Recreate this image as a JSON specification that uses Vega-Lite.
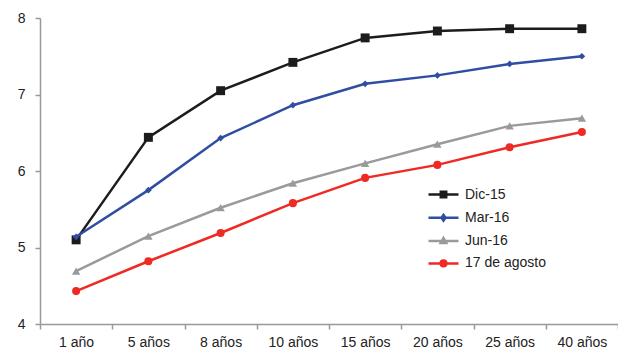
{
  "$schema": "https://vega.github.io/schema/vega-lite/v6.json",
  "autosize": {"type": "none"},
  "padding": {"left": 40, "top": 18, "right": 0, "bottom": 28},
  "width": 578,
  "height": 306,
  "background": "white",
  "config": {
    "view": {"stroke": null},
    "font": "Liberation Sans",
    "axis": {"labelFont": "Liberation Sans", "labelFontSize": 14, "labelColor": "#222222", "domainColor": "#999999", "tickColor": "#999999", "domainWidth": 1.5, "tickWidth": 1.5, "grid": false, "title": null}
  },
  "data": {
    "values": [
      {"plazo": "1 año", "serie": "Dic-15", "valor": 5.10},
      {"plazo": "5 años", "serie": "Dic-15", "valor": 6.44},
      {"plazo": "8 años", "serie": "Dic-15", "valor": 7.05},
      {"plazo": "10 años", "serie": "Dic-15", "valor": 7.42},
      {"plazo": "15 años", "serie": "Dic-15", "valor": 7.74},
      {"plazo": "20 años", "serie": "Dic-15", "valor": 7.83},
      {"plazo": "25 años", "serie": "Dic-15", "valor": 7.86},
      {"plazo": "40 años", "serie": "Dic-15", "valor": 7.86},
      {"plazo": "1 año", "serie": "Mar-16", "valor": 5.14},
      {"plazo": "5 años", "serie": "Mar-16", "valor": 5.75},
      {"plazo": "8 años", "serie": "Mar-16", "valor": 6.43},
      {"plazo": "10 años", "serie": "Mar-16", "valor": 6.86},
      {"plazo": "15 años", "serie": "Mar-16", "valor": 7.14},
      {"plazo": "20 años", "serie": "Mar-16", "valor": 7.25},
      {"plazo": "25 años", "serie": "Mar-16", "valor": 7.40},
      {"plazo": "40 años", "serie": "Mar-16", "valor": 7.50},
      {"plazo": "1 año", "serie": "Jun-16", "valor": 4.69},
      {"plazo": "5 años", "serie": "Jun-16", "valor": 5.15},
      {"plazo": "8 años", "serie": "Jun-16", "valor": 5.52},
      {"plazo": "10 años", "serie": "Jun-16", "valor": 5.84},
      {"plazo": "15 años", "serie": "Jun-16", "valor": 6.10},
      {"plazo": "20 años", "serie": "Jun-16", "valor": 6.35},
      {"plazo": "25 años", "serie": "Jun-16", "valor": 6.59},
      {"plazo": "40 años", "serie": "Jun-16", "valor": 6.69},
      {"plazo": "1 año", "serie": "17 de agosto", "valor": 4.43},
      {"plazo": "5 años", "serie": "17 de agosto", "valor": 4.82},
      {"plazo": "8 años", "serie": "17 de agosto", "valor": 5.19},
      {"plazo": "10 años", "serie": "17 de agosto", "valor": 5.58},
      {"plazo": "15 años", "serie": "17 de agosto", "valor": 5.91},
      {"plazo": "20 años", "serie": "17 de agosto", "valor": 6.08},
      {"plazo": "25 años", "serie": "17 de agosto", "valor": 6.31},
      {"plazo": "40 años", "serie": "17 de agosto", "valor": 6.51}
    ]
  },
  "encoding": {
    "x": {
      "field": "plazo", "type": "nominal",
      "sort": ["1 año", "5 años", "8 años", "10 años", "15 años", "20 años", "25 años", "40 años"],
      "scale": {"type": "band", "paddingInner": 0, "paddingOuter": 0},
      "axis": {"labelAngle": 0, "tickBand": "extent", "tickSize": 5, "labelPadding": 6}
    },
    "y": {
      "field": "valor", "type": "quantitative",
      "scale": {"domain": [4, 8], "nice": false, "zero": false},
      "axis": {"values": [4, 5, 6, 7, 8], "tickSize": 5, "labelPadding": 10, "format": "d"}
    }
  },
  "layer": [
    {
      "transform": [{"filter": "datum.serie === 'Dic-15'"}],
      "mark": {"type": "line", "strokeWidth": 2.5, "color": "#1c1c1c", "point": {"filled": true, "opacity": 1, "shape": "square", "size": 80, "color": "#1c1c1c"}}
    },
    {
      "transform": [{"filter": "datum.serie === 'Mar-16'"}],
      "mark": {"type": "line", "strokeWidth": 2.5, "color": "#2f4ea1", "point": {"filled": true, "opacity": 1, "shape": "diamond", "size": 45, "color": "#2f4ea1"}}
    },
    {
      "transform": [{"filter": "datum.serie === 'Jun-16'"}],
      "mark": {"type": "line", "strokeWidth": 2.5, "color": "#9a9a9a", "point": {"filled": true, "opacity": 1, "shape": "triangle-up", "size": 70, "color": "#9a9a9a"}}
    },
    {
      "transform": [{"filter": "datum.serie === '17 de agosto'"}],
      "mark": {"type": "line", "strokeWidth": 2.5, "color": "#ee2a24", "point": {"filled": true, "opacity": 1, "shape": "circle", "size": 65, "color": "#ee2a24"}}
    },
    {
      "transform": [{"filter": "false"}],
      "mark": {"type": "point", "filled": true, "opacity": 1, "strokeWidth": 2.5},
      "encoding": {
        "color": {
          "field": "serie", "type": "nominal",
          "scale": {"domain": ["Dic-15", "Mar-16", "Jun-16", "17 de agosto"], "range": ["#1c1c1c", "#2f4ea1", "#9a9a9a", "#ee2a24"]},
          "legend": {
            "title": null, "orient": "none", "legendX": 392, "legendY": 165,
            "padding": 0, "symbolSize": 400, "symbolStrokeWidth": 2.5, "labelOffset": 10, "rowPadding": 3.3,
            "labelFont": "Liberation Sans", "labelFontSize": 14, "labelColor": "#222222"
          }
        },
        "stroke": {
          "field": "serie", "type": "nominal",
          "scale": {"domain": ["Dic-15", "Mar-16", "Jun-16", "17 de agosto"], "range": ["#1c1c1c", "#2f4ea1", "#9a9a9a", "#ee2a24"]},
          "legend": {
            "title": null, "orient": "none", "legendX": 392, "legendY": 165,
            "padding": 0, "symbolSize": 400, "symbolStrokeWidth": 2.5, "labelOffset": 10, "rowPadding": 3.3,
            "labelFont": "Liberation Sans", "labelFontSize": 14, "labelColor": "#222222"
          }
        },
        "shape": {
          "field": "serie", "type": "nominal",
          "scale": {"domain": ["Dic-15", "Mar-16", "Jun-16", "17 de agosto"], "range": ["M-1.5,0H1.5M-0.27,-0.27H0.27V0.27H-0.27Z", "M-1.5,0H1.5M0,-0.28L0.2,0L0,0.28L-0.2,0Z", "M-1.5,0H1.5M0,-0.3L0.28,0.2L-0.28,0.2Z", "M-1.5,0H1.5M-0.28,0A0.28,0.28,0,1,0,0.28,0A0.28,0.28,0,1,0,-0.28,0Z"]},
          "legend": {
            "title": null, "orient": "none", "legendX": 392, "legendY": 165,
            "padding": 0, "symbolSize": 400, "symbolStrokeWidth": 2.5, "labelOffset": 10, "rowPadding": 3.3,
            "labelFont": "Liberation Sans", "labelFontSize": 14, "labelColor": "#222222"
          }
        }
      }
    }
  ]
}
